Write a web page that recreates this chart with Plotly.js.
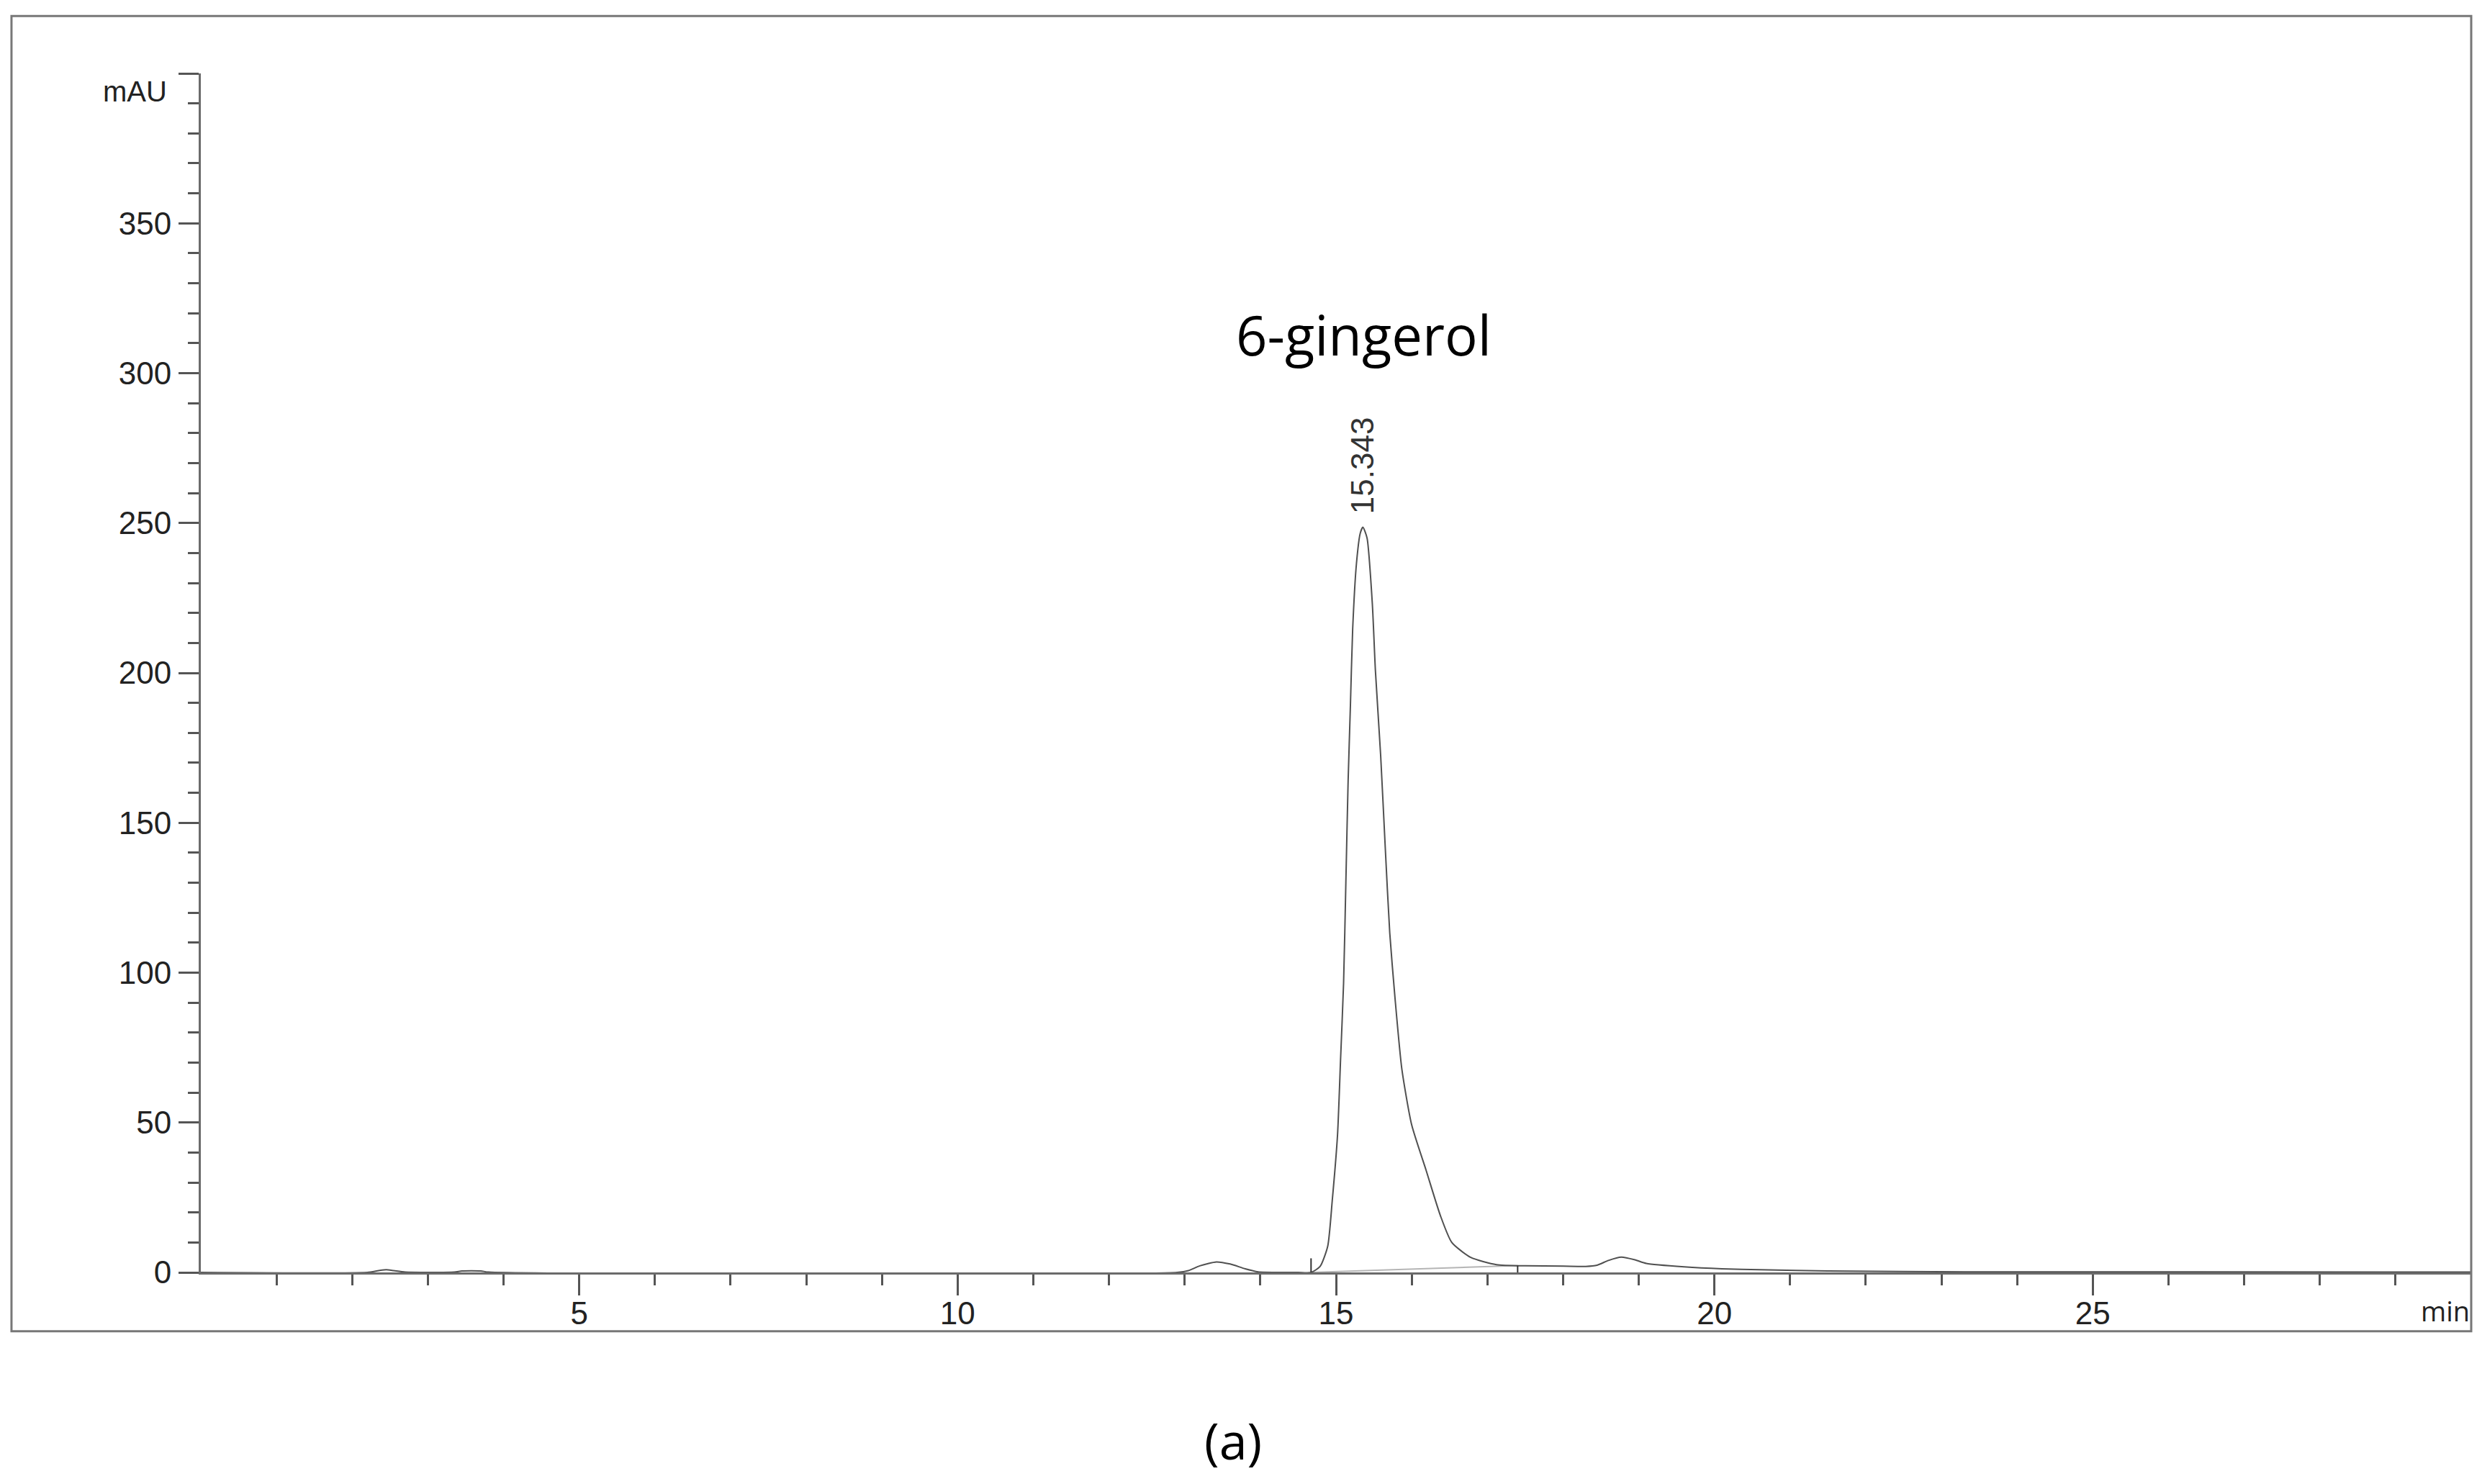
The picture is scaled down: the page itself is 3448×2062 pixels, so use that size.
<!DOCTYPE html>
<html>
<head>
<meta charset="utf-8">
<script src="https://cdn.plot.ly/plotly-3.0.1.min.js"></script>
<style>
  html, body { margin: 0; padding: 0; background: #fff; }
  #chart { width: 3448px; height: 2062px; }
</style>
</head>
<body>
<div id="chart"></div>
<script>
// chromatogram trace (min, mAU)
var time = [0, 2.2, 2.35, 2.45, 2.55, 2.7, 3.35, 3.45, 3.7, 3.8,
    12.9, 13.05, 13.2, 13.42, 13.6, 13.8, 13.97, 14.5, 14.67, 14.79,
    14.89, 14.95, 15.02, 15.06, 15.1, 15.13, 15.16, 15.19, 15.22, 15.27,
    15.32, 15.355, 15.41, 15.48, 15.52, 15.59, 15.65, 15.71, 15.78, 15.87,
    16.0, 16.19, 16.38, 16.53, 16.78, 17.12, 17.5, 18.0, 18.3, 18.45,
    18.6, 18.77, 18.95, 19.1, 19.6, 20.1, 20.6, 21.5, 23.3, 30];
var absorbance = [0, 0, 0.6, 0.9, 0.6, 0.1, 0.1, 0.5, 0.5, 0.1,
    0, 0.6, 2.2, 3.5, 2.8, 1.2, 0.2, 0, 0, 2,
    8.7, 23.9, 45.9, 71, 96.5, 130, 164, 189, 214.6, 236.5,
    246.6, 248.6, 245, 223, 201, 172.4, 142, 113.3, 91.4, 67.8,
    49.2, 34.1, 18.9, 10.0, 5.0, 2.6, 2.2, 2.1, 2.0, 2.4,
    4.0, 5.1, 4.2, 3.0, 1.85, 1.2, 0.9, 0.5, 0.2, 0.1];

// integration baseline and its start/end marks
var baseX = [14.67, 17.4];
var baseY = [0, 2.3];
var markX = [14.67, 17.4];
var markLow = [0, 0];
var markHigh = [4.7, 2.3];

// labelled peak
var peakTimes = [15.343];
var peakHeights = [248.6];
var peakNames = ['6-gingerol'];

// axis ticks
var xMajor = [5, 10, 15, 20, 25];
var xMinor = [1, 2, 3, 4, 6, 7, 8, 9, 11, 12, 13, 14, 16, 17, 18, 19,
    21, 22, 23, 24, 26, 27, 28, 29];
var yMajor = [0, 50, 100, 150, 200, 250, 300, 350, 400];
var yLabels = ['0', '50', '100', '150', '200', '250', '300', '350', ''];

var markXs = [], markYs = [];
for (var i = 0; i < markX.length; i++) {
    markXs.push(markX[i], markX[i], null);
    markYs.push(markLow[i], markHigh[i], null);
}

var signal = {
    x: time,
    y: absorbance,
    mode: 'lines',
    line: {color: '#505050', width: 2, shape: 'spline', smoothing: 0.6},
    type: 'scatter'
};

var baseline = {
    x: baseX,
    y: baseY,
    mode: 'lines',
    line: {color: '#b5b5b5', width: 2},
    type: 'scatter'
};

var marks = {
    x: markXs,
    y: markYs,
    mode: 'lines',
    line: {color: '#333', width: 2},
    type: 'scatter'
};

var data = [baseline, signal, marks];

var tickFont = {family: 'Liberation Sans, Arial, sans-serif', size: 44, color: '#222'};
var textFont = 'Open Sans, Noto Sans, sans-serif';

var annotations = [];
for (var j = 0; j < peakTimes.length; j++) {
    annotations.push({
        x: peakTimes[j], y: peakHeights[j],
        text: peakTimes[j].toFixed(3),
        textangle: -90, showarrow: false,
        xanchor: 'center', yanchor: 'bottom', yshift: 16,
        font: {family: 'Liberation Sans, Arial, sans-serif', size: 44, color: '#333'}
    });
    annotations.push({
        x: peakTimes[j] + 0.02, y: 313,
        text: peakNames[j], showarrow: false,
        xanchor: 'center', yanchor: 'middle',
        font: {family: textFont, size: 76, color: '#000'}
    });
}
annotations.push({
    xref: 'paper', x: -0.0143, y: 394,
    text: 'mAU', showarrow: false,
    xanchor: 'right', yanchor: 'middle',
    font: {family: 'Liberation Sans, Arial, sans-serif', size: 40, color: '#222'}
});
annotations.push({
    xref: 'paper', yref: 'paper', x: 1, y: -0.032,
    text: 'min', showarrow: false,
    xanchor: 'right', yanchor: 'middle',
    font: {family: textFont, size: 38, color: '#222'}
});
annotations.push({
    xref: 'paper', yref: 'paper', x: 0.4547, y: -0.140,
    text: '(a)', showarrow: false,
    xanchor: 'center', yanchor: 'middle',
    font: {family: textFont, size: 70, color: '#000'}
});

var layout = {
    width: 3448,
    height: 2062,
    margin: {l: 279, r: 15, t: 102, b: 294, pad: 0},
    paper_bgcolor: '#fff',
    plot_bgcolor: '#fff',
    showlegend: false,
    xaxis: {
        range: [0, 30],
        showline: true, linecolor: '#6b6b6b', linewidth: 3,
        showgrid: false, zeroline: false,
        tickmode: 'array', tickvals: xMajor,
        ticks: 'outside', ticklen: 29, tickwidth: 3, tickcolor: '#555',
        ticklabelstandoff: -13,
        tickfont: tickFont,
        minor: {tickmode: 'array', tickvals: xMinor, ticks: 'outside',
                ticklen: 15, tickwidth: 3, tickcolor: '#555', showgrid: false}
    },
    yaxis: {
        range: [0, 400],
        showline: true, linecolor: '#6b6b6b', linewidth: 3,
        showgrid: false, zeroline: false,
        tickmode: 'array', tickvals: yMajor, ticktext: yLabels,
        ticks: 'outside', ticklen: 28, tickwidth: 3, tickcolor: '#555',
        ticklabelstandoff: 1,
        tickfont: tickFont,
        minor: {dtick: 10, ticks: 'outside',
                ticklen: 15, tickwidth: 3, tickcolor: '#555', showgrid: false}
    },
    shapes: [{
        type: 'rect', xref: 'paper', yref: 'paper',
        x0: -0.0834, x1: 1.0, y0: -0.049, y1: 1.0478,
        line: {color: '#777', width: 3}
    }],
    annotations: annotations
};

Plotly.newPlot('chart', data, layout, {staticPlot: true});
</script>
</body>
</html>
